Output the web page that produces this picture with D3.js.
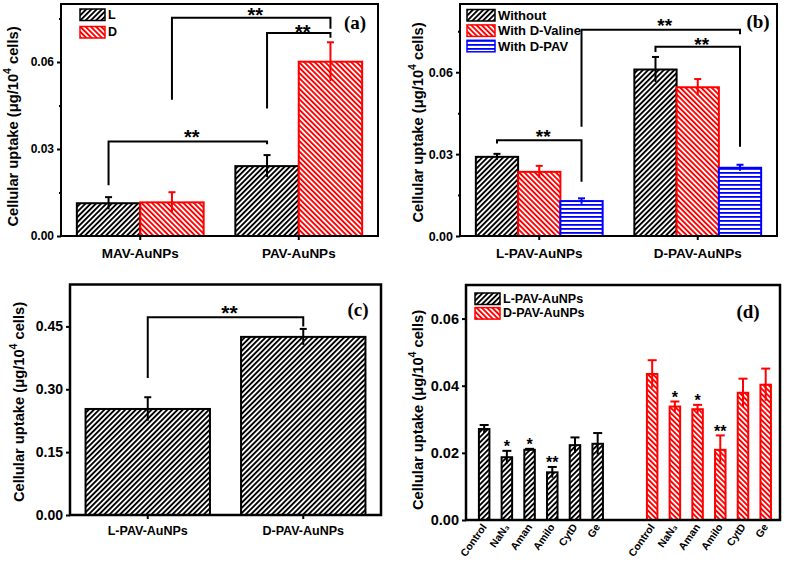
<!DOCTYPE html>
<html><head><meta charset="utf-8">
<script src="https://cdn.jsdelivr.net/npm/d3@7"></script>
<style>body{margin:0;background:#fff}</style>
</head><body><svg id="c" width="787" height="562"></svg>
<script>
// ---------------- data ----------------
const aCategories = ["MAV-AuNPs", "PAV-AuNPs"];
const aSeries = ["L", "D"];
const aL = [0.0113, 0.0241];
const aLErr = [0.0021, 0.0038];
const aD = [0.0116, 0.0601];
const aDErr = [0.0035, 0.0067];
const aTicks = [0, 0.03, 0.06];
const aMinor = [0.015, 0.045, 0.075];

const bCategories = ["L-PAV-AuNPs", "D-PAV-AuNPs"];
const bSeries = ["Without", "With D-Valine", "With D-PAV"];
const bWithout = [0.0290, 0.0610];
const bWithoutErr = [0.0011, 0.0046];
const bValine = [0.0235, 0.0545];
const bValineErr = [0.0022, 0.0030];
const bPAV = [0.0128, 0.0250];
const bPAVErr = [0.0010, 0.0011];
const bTicks = [0, 0.03, 0.06];
const bMinor = [0.015, 0.045, 0.075];

const cCategories = ["L-PAV-AuNPs", "D-PAV-AuNPs"];
const cValues = [0.253, 0.425];
const cErr = [0.028, 0.019];
const cTicks = [0, 0.15, 0.30, 0.45];

const dTreatments = ["Control", "NaN₃", "Aman", "Amilo", "CytD", "Ge"];
const dSeries = ["L-PAV-AuNPs", "D-PAV-AuNPs"];
const dL = [0.0271, 0.0187, 0.0209, 0.0142, 0.0223, 0.0227];
const dLErr = [0.0012, 0.0019, 0.0003, 0.0016, 0.0023, 0.0032];
const dD = [0.0435, 0.0338, 0.0330, 0.0209, 0.0379, 0.0403];
const dDErr = [0.0041, 0.0015, 0.0013, 0.0043, 0.0042, 0.0048];
const dLStars = ["", "*", "*", "**", "", ""];
const dDStars = ["", "*", "*", "**", "", ""];
const dTicks = [0, 0.02, 0.04, 0.06];

// significance brackets: from/to = [category index, series index]; y values in data units
const aBrackets = [
  {from: [0, 0], to: [1, 0], y1: 0.0175, top: 0.0326, y2: 0.0316, label: "**", ly: 0.0357},
  {from: [0, 1], to: [1, 1], y1: 0.0470, top: 0.0753, y2: 0.0715, label: "**", ly: 0.0777},
  {from: [1, 0], to: [1, 1], y1: 0.0440, top: 0.0700, y2: 0.0684, label: "**", ly: 0.0718}
];
const bBrackets = [
  {from: [0, 0], to: [0, 2], y1: 0.0339, top: 0.0351, y2: 0.0199, label: "**", ly: 0.0382},
  {from: [0, 2], to: [1, 2], y1: 0.0400, top: 0.0756, y2: 0.0739, label: "**", ly: 0.0788},
  {from: [1, 0], to: [1, 2], y1: 0.0674, top: 0.0693, y2: 0.0327, label: "**", ly: 0.0717}
];
const cBrackets = [
  {from: [0, 0], to: [1, 0], y1: 0.327, top: 0.472, y2: 0.450, label: "**", ly: 0.494}
];

// ---------------- drawing ----------------
const SANS = "'Liberation Sans', Arial, sans-serif";
const SERIF = "'Liberation Serif', 'Times New Roman', serif";
const svg = d3.select("#c");
const defs = svg.append("defs");

function stripe(id, color, angle, period, lw) {
  const p = defs.append("pattern").attr("id", id).attr("patternUnits", "userSpaceOnUse")
    .attr("width", period).attr("height", period).attr("patternTransform", `rotate(${angle})`);
  p.append("rect").attr("width", period).attr("height", period).attr("fill", "#fff");
  p.append("rect").attr("width", lw).attr("height", period).attr("fill", color);
}
stripe("pL", "#000", 45, 3.7, 1.9);
stripe("pD", "#f00", -45, 3.7, 1.9);
stripe("pB", "#00f", 90, 4, 1.8);

function frame(g, f, sw) {
  g.append("rect").attr("x", f.x0).attr("y", f.y0).attr("width", f.x1 - f.x0).attr("height", f.y1 - f.y0)
    .attr("fill", "none").attr("stroke", "#000").attr("stroke-width", sw);
}

function yAxis(g, y, f, ticks, minor, fs) {
  const ax = g.append("g").attr("transform", `translate(${f.x0},0)`)
    .call(d3.axisLeft(y).tickValues(ticks).tickSize(4).tickPadding(3).tickFormat(d3.format(".2f")));
  ax.select(".domain").remove();
  ax.selectAll("line").attr("stroke-width", 2);
  ax.selectAll("text").attr("font-family", SANS).attr("font-weight", "bold").attr("font-size", fs).attr("fill", "#000");
  if (minor) {
    const mx = g.append("g").attr("transform", `translate(${f.x0},0)`)
      .call(d3.axisLeft(y).tickValues(minor).tickSize(2).tickFormat(""));
    mx.select(".domain").remove();
    mx.selectAll("line").attr("stroke-width", 2);
  }
}

function yTitle(g, x, y, fs) {
  const t = g.append("text").attr("transform", `translate(${x},${y}) rotate(-90)`)
    .attr("text-anchor", "middle").attr("dominant-baseline", "central")
    .attr("font-family", SANS).attr("font-weight", "bold").attr("font-size", fs).attr("fill", "#000");
  t.append("tspan").text("Cellular uptake (μg/10");
  t.append("tspan").attr("dy", -fs * 0.4).attr("font-size", fs * 0.72).text("4");
  t.append("tspan").attr("dy", fs * 0.4).text(" cells)");
}

function panelLabel(g, x, y, s) {
  g.append("text").attr("x", x).attr("y", y).attr("text-anchor", "middle")
    .attr("font-family", SERIF).attr("font-weight", "bold").attr("font-size", 19).text(s);
}

function errBar(g, cx, yTop, yBot, cap, color) {
  g.append("line").attr("x1", cx).attr("x2", cx).attr("y1", yBot).attr("y2", yTop)
    .attr("stroke", color).attr("stroke-width", 2);
  g.append("line").attr("x1", cx - cap / 2).attr("x2", cx + cap / 2).attr("y1", yTop).attr("y2", yTop)
    .attr("stroke", color).attr("stroke-width", 2);
}

function legend(g, x, y0, step, w, h, items, fs) {
  items.forEach((it, i) => {
    const yy = y0 + i * step;
    g.append("rect").attr("x", x).attr("y", yy).attr("width", w).attr("height", h)
      .attr("fill", it.fill).attr("stroke", it.stroke).attr("stroke-width", 1.5);
    g.append("text").attr("x", x + w + 3).attr("y", yy + h / 2).attr("dominant-baseline", "central")
      .attr("font-family", SANS).attr("font-weight", "bold").attr("font-size", fs).text(it.name);
  });
}

function brackets(g, list, xpos, y, fs) {
  list.forEach(b => {
    const xa = xpos(b.from), xb = xpos(b.to);
    g.append("path").attr("d", `M${xa},${y(b.y1)}V${y(b.top)}H${xb}V${y(b.y2)}`)
      .attr("fill", "none").attr("stroke", "#000").attr("stroke-width", 2);
    g.append("text").attr("x", (xa + xb) / 2 + 4).attr("y", y(b.ly) + fs * 0.58).attr("text-anchor", "middle")
      .attr("font-family", SANS).attr("font-weight", "bold").attr("font-size", fs).text(b.label);
  });
}

function groupedPanel(cfg) {
  const g = svg.append("g");
  const f = cfg.frame;
  const x0 = d3.scaleBand().domain(cfg.categories).range([f.x0, f.x1]).paddingInner(0.2).paddingOuter(0.1);
  const x1 = d3.scaleBand().domain(cfg.series.map(s => s.name)).range([0, x0.bandwidth()]);
  const y = d3.scaleLinear().domain([0, cfg.yMax]).range([f.y1, f.y0]);
  cfg.series.forEach(s => {
    cfg.categories.forEach((c, i) => {
      g.append("rect").attr("x", x0(c) + x1(s.name)).attr("y", y(s.values[i]))
        .attr("width", x1.bandwidth()).attr("height", y(0) - y(s.values[i]))
        .attr("fill", s.fill).attr("stroke", s.stroke).attr("stroke-width", 2);
    });
  });
  cfg.series.forEach(s => {
    cfg.categories.forEach((c, i) => {
      const cx = x0(c) + x1(s.name) + x1.bandwidth() / 2;
      errBar(g, cx, y(s.values[i] + s.errs[i]), y(s.values[i] - s.errs[i]), 7, s.stroke);
    });
  });
  const xpos = ([ci, si]) => x0(cfg.categories[ci]) + x1(cfg.series[si].name) + x1.bandwidth() / 2;
  brackets(g, cfg.brackets, xpos, y, cfg.starSize);
  yAxis(g, y, f, cfg.ticks, cfg.minor, cfg.tickFs);
  const xa = g.append("g").attr("transform", `translate(0,${f.y1})`)
    .call(d3.axisBottom(x0).tickSize(4).tickPadding(cfg.xPad));
  xa.select(".domain").remove();
  xa.selectAll("line").attr("stroke-width", 2);
  xa.selectAll("text").attr("font-family", SANS).attr("font-weight", "bold").attr("font-size", cfg.catFs).attr("fill", "#000");
  frame(g, f, cfg.frameW);
  if (cfg.legend) legend(g, ...cfg.legend, cfg.series, cfg.legendFs);
  yTitle(g, cfg.titleX, cfg.titleY, 14.7);
  panelLabel(g, cfg.labelX, cfg.labelY, cfg.label);
}

// (a)
groupedPanel({
  frame: {x0: 61, x1: 378, y0: 4, y1: 236}, yMax: 0.08, categories: aCategories,
  series: [
    {name: aSeries[0], values: aL, errs: aLErr, fill: "url(#pL)", stroke: "#000"},
    {name: aSeries[1], values: aD, errs: aDErr, fill: "url(#pD)", stroke: "#f00"}
  ],
  ticks: aTicks, minor: aMinor, tickFs: 12, catFs: 13.5, xPad: 8, frameW: 2,
  brackets: aBrackets, starSize: 20,
  legend: [80, 9, 17.5, 25, 11.5], legendFs: 12.5,
  titleX: 13, titleY: 126.5, label: "(a)", labelX: 355, labelY: 29
});

// (b)
groupedPanel({
  frame: {x0: 460, x1: 777, y0: 4, y1: 236}, yMax: 0.085, categories: bCategories,
  series: [
    {name: bSeries[0], values: bWithout, errs: bWithoutErr, fill: "url(#pL)", stroke: "#000"},
    {name: bSeries[1], values: bValine, errs: bValineErr, fill: "url(#pD)", stroke: "#f00"},
    {name: bSeries[2], values: bPAV, errs: bPAVErr, fill: "url(#pB)", stroke: "#00f"}
  ],
  ticks: bTicks, minor: bMinor, tickFs: 12.5, catFs: 13.5, xPad: 8, frameW: 2,
  brackets: bBrackets, starSize: 19,
  legend: [467, 9.5, 15.4, 28, 11.5], legendFs: 13,
  titleX: 417.5, titleY: 122.5, label: "(b)", labelX: 758, labelY: 28
});

// (c)
groupedPanel({
  frame: {x0: 70, x1: 381, y0: 284.5, y1: 515}, yMax: 0.55, categories: cCategories,
  series: [{name: "uptake", values: cValues, errs: cErr, fill: "url(#pL)", stroke: "#000"}],
  ticks: cTicks, minor: null, tickFs: 14, catFs: 12.5, xPad: 7, frameW: 2.5,
  brackets: cBrackets, starSize: 21,
  legend: null,
  titleX: 19, titleY: 402, label: "(c)", labelX: 358, labelY: 316
});

// (d)
(function () {
  const g = svg.append("g");
  const f = {x0: 466, x1: 780, y0: 285, y1: 520};
  const x = d3.scaleLinear().domain([0, 13.83]).range([f.x0, f.x1]);
  const groupOffset = [0.8, 8.2];
  const y = d3.scaleLinear().domain([0, 0.07]).range([f.y1, f.y0]);
  const bw = 10.5;
  const groups = [
    {name: dSeries[0], values: dL, errs: dLErr, stars: dLStars, fill: "url(#pL)", stroke: "#000"},
    {name: dSeries[1], values: dD, errs: dDErr, stars: dDStars, fill: "url(#pD)", stroke: "#f00"}
  ];
  groups.forEach((s, gi) => {
    dTreatments.forEach((t, i) => {
      const cx = x(groupOffset[gi] + i);
      g.append("rect").attr("x", cx - bw / 2).attr("y", y(s.values[i])).attr("width", bw)
        .attr("height", y(0) - y(s.values[i])).attr("fill", s.fill).attr("stroke", s.stroke).attr("stroke-width", 2);
      errBar(g, cx, y(s.values[i] + s.errs[i]), y(s.values[i] - s.errs[i]), 9, s.stroke);
      if (s.stars[i]) {
        g.append("text").attr("x", cx).attr("y", y(s.values[i] + s.errs[i]) + 1.5).attr("text-anchor", "middle")
          .attr("font-family", SANS).attr("font-weight", "bold").attr("font-size", 16).text(s.stars[i]);
      }
      g.append("text").attr("transform", `translate(${cx + 3},${f.y1 + 7}) rotate(-55)`)
        .attr("text-anchor", "end").attr("font-family", SANS).attr("font-weight", "bold")
        .attr("font-size", 10.5).text(t);
    });
  });
  yAxis(g, y, f, dTicks, null, 14.5);
  frame(g, f, 2.5);
  legend(g, 475, 293, 14.6, 25, 11.5, groups, 12.5);
  yTitle(g, 418, 410, 14.7);
  panelLabel(g, 748, 318, "(d)");
})();
</script></body></html>
